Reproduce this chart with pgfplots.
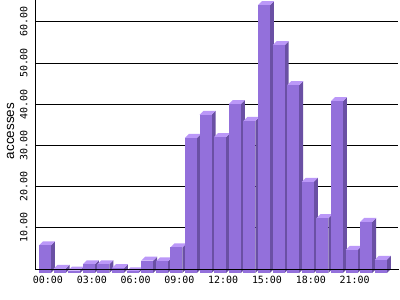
\documentclass[border=0pt]{standalone}
\usepackage{fontspec}
\setmainfont{Liberation Sans}
\newfontfamily\monofont{DejaVu Sans Mono}
\usepackage{pgfplots}
\usepackage{pgfplotstable}
\pgfplotsset{compat=1.18}
\definecolor{barfront}{RGB}{147,112,219}
\definecolor{barside}{RGB}{106,80,164}
\definecolor{bartop}{RGB}{187,152,248}
\pgfdeclareplotmark{box3d}{%
  \pgfmathsetmacro\hh{\val*4.12}%
  \pgfsetfillcolor{barside}%
  \pgfpathmoveto{\pgfpoint{3bp}{-4bp}}%
  \pgfpathlineto{\pgfpoint{7bp}{0bp}}%
  \pgfpathlineto{\pgfpoint{7bp}{-\hh bp}}%
  \pgfpathlineto{\pgfpoint{3bp}{-\hh bp-4bp}}%
  \pgfpathclose\pgfusepath{fill}%
  \pgfsetfillcolor{bartop}%
  \pgfpathmoveto{\pgfpoint{-9bp}{-4bp}}%
  \pgfpathlineto{\pgfpoint{-5bp}{0bp}}%
  \pgfpathlineto{\pgfpoint{7bp}{0bp}}%
  \pgfpathlineto{\pgfpoint{3bp}{-4bp}}%
  \pgfpathclose\pgfusepath{fill}%
  \pgfsetfillcolor{barfront}%
  \pgfpathrectanglecorners{\pgfpoint{-9bp}{-4bp}}{\pgfpoint{3bp}{-\hh bp-4bp}}%
  \pgfusepath{fill}%
}
\pgfplotstableread{
x v
0 6.7
1 1.0
2 0.6
3 2.1
4 2.1
5 1.2
6 0.4
7 3.0
8 2.8
9 6.2
10 32.8
11 38.4
12 33.0
13 41.0
14 36.9
15 65.0
16 55.3
17 45.6
18 22.1
19 13.3
20 41.7
21 5.6
22 12.4
23 3.2
}\hours
\begin{document}
\begin{tikzpicture}
\begin{axis}[
  scale only axis,
  x=14.6bp, y=4.12bp,
  xmin=-0.89, xmax=24.0,
  ymin=0, ymax=65.3,
  axis x line*=bottom, axis y line*=left,
  axis line style={black, line width=0.9bp},
  major tick length=0pt,
  xtick={0,3,6,9,12,15,18,21},
  xticklabels={00:00,03:00,06:00,09:00,12:00,15:00,18:00,21:00},
  ytick={10,20,30,40,50,60},
  yticklabels={10.00,20.00,30.00,40.00,50.00,60.00},
  ymajorgrids,
  grid style={black, line width=0.9bp},
  xticklabel style={font=\monofont\fontsize{10}{12}\selectfont},
  yticklabel style={font=\monofont\fontsize{10}{12}\selectfont, rotate=90, anchor=south},
  xticklabel shift=4bp,
  yticklabel shift=4bp,
  every axis y label/.style={at={([xshift=-21bp]rel axis cs:0,0.513)}, rotate=90, anchor=base, font=\fontsize{13.5}{15}\selectfont},
  ylabel={accesses},
]
\addplot[only marks, mark=box3d, visualization depends on={\thisrow{v} \as \val}] table[x=x, y=v] {\hours};
\coordinate (O) at (rel axis cs:0,0);
\end{axis}
\draw[black, line width=0.9bp] ([xshift=0bp]O) -- ([xshift=364bp]O);
\pgfresetboundingbox
\path[use as bounding box] ([shift={(-35bp,-31bp)}]O) rectangle ([shift={(365bp,269bp)}]O);
\end{tikzpicture}
\end{document}
